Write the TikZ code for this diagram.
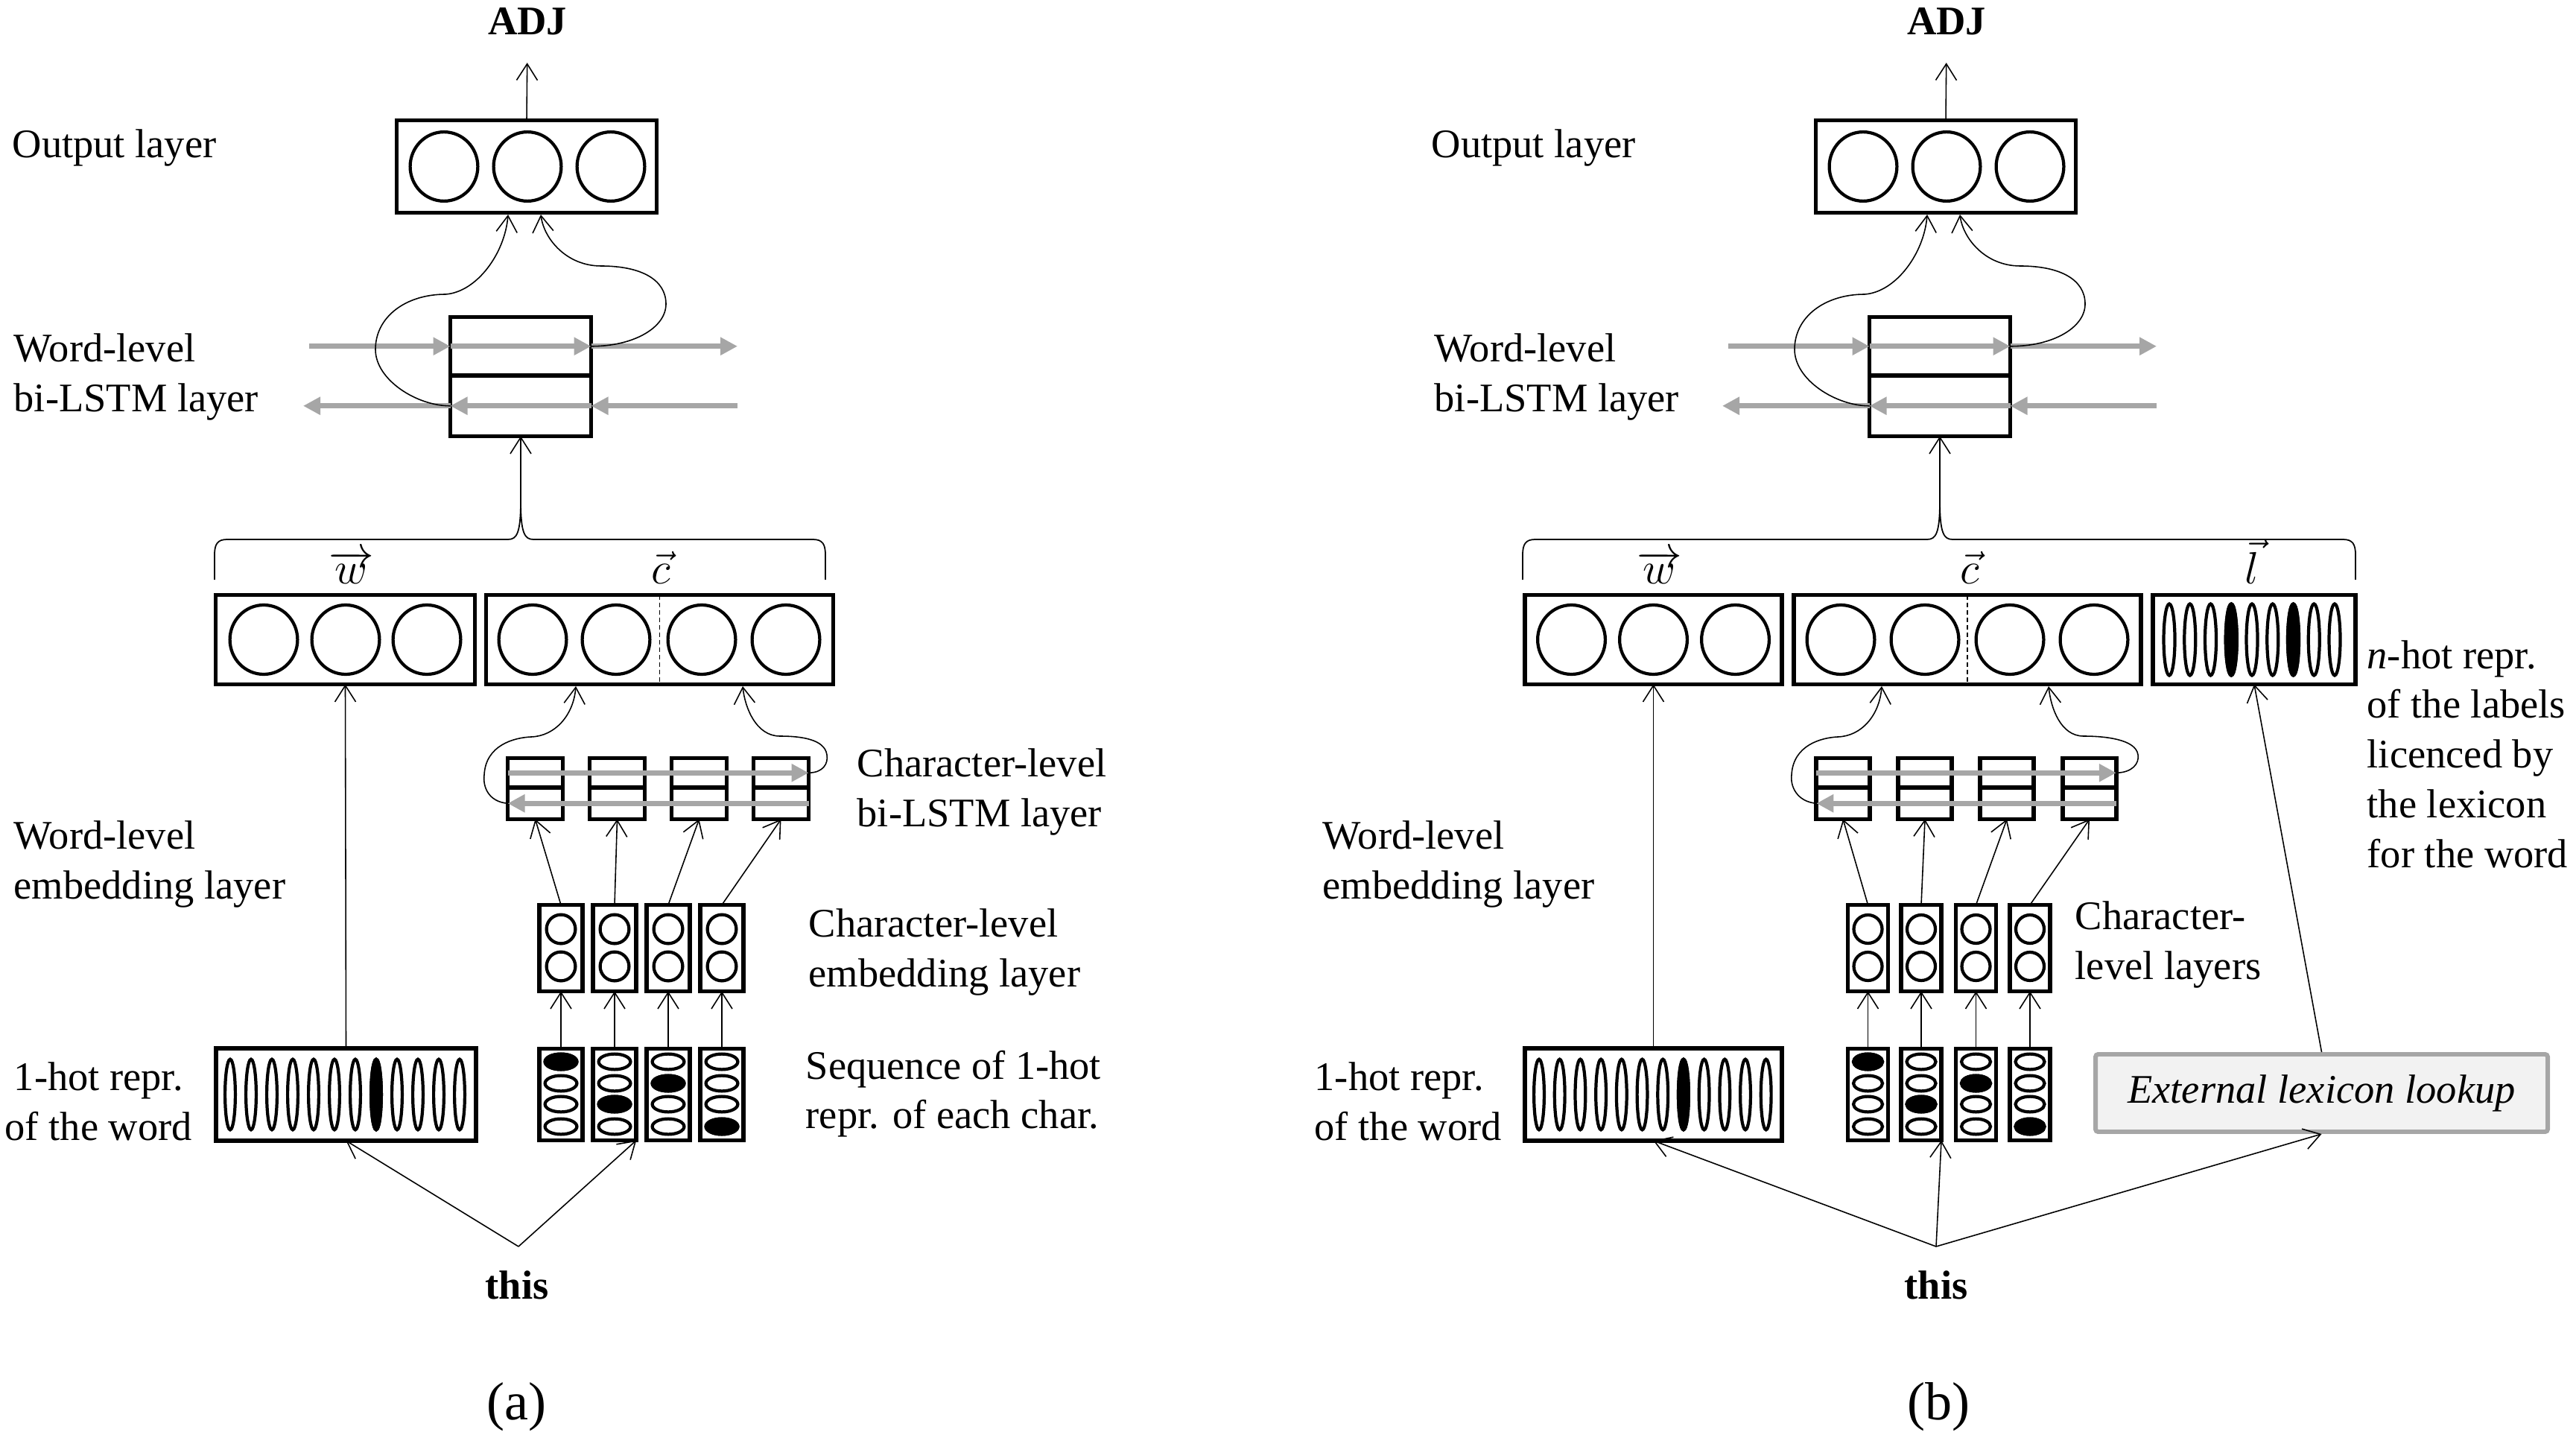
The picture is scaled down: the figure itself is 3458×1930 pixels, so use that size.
\documentclass[tikz,border=0pt]{standalone}
\usepackage{fontspec}
\setmainfont{Liberation Serif}
\usetikzlibrary{arrows.meta}
\definecolor{arrgray}{HTML}{A6A6A6}
\definecolor{extfill}{HTML}{F2F2F2}
\begin{document}
\begin{tikzpicture}[x=0.1mm,y=-0.1mm,
  font=\fontsize{15.5pt}{19pt}\selectfont,
  vbox/.style={draw, line width=1.6pt, rectangle, inner sep=0pt, outer sep=0pt},
  vring/.style={line width=1.2pt},
  vconn/.style={line width=0.45pt, -{Straight Barb[length=2.2mm,width=2.8mm]}},
  vgarr/.style={draw=arrgray, line width=1.9pt, -{Triangle[length=2.3mm,width=2.3mm]}},
  vbrace/.style={line width=0.5pt},
  vdash/.style={line width=0.45pt, dash pattern=on 0.6mm off 0.4mm},
  vlbl/.style={align=left, anchor=west, inner sep=0pt},
  vvec/.style={anchor=base, inner sep=0pt, font=\fontsize{17pt}{19pt}\selectfont},
  vbold/.style={font=\fontsize{15.5pt}{19pt}\selectfont\bfseries, inner sep=0pt},
  vcap/.style={font=\fontsize{20.5pt}{24pt}\selectfont, inner sep=0pt}
]
\useasboundingbox (0,0) rectangle (3458,1930);

%%%%%%%%%%%%%%%%%%%%%%%%%%%%%% PANEL (a)
\node[vbold, anchor=base] (adja) at (708,47) {ADJ};
\node[vbox, minimum width=34.9mm, minimum height=12.4mm] (outa) at (707,223.5) {};
\foreach \cx in {596,708,820} \draw[vring] (\cx,223.5) ellipse [x radius=45.4, y radius=46.4];
\draw[vconn, shorten >=3.6mm] (outa.north) -- (adja.south);
\node[vbox, minimum width=18.9mm, minimum height=7.85mm] (lta) at (699,464.75) {};
\node[vbox, minimum width=18.9mm, minimum height=8.15mm] (lba) at (699,544.75) {};
\coordinate (gua1) at (415,464.75); \coordinate (gua2) at (990,464.75);
\coordinate (gda1) at (990,544.75); \coordinate (gda2) at (407,544.75);
\draw[vgarr] (gua1) -- (lta.west);
\draw[vgarr] (lta.west) -- (lta.east);
\draw[vgarr] (lta.east) -- (gua2);
\draw[vgarr] (gda1) -- (lba.east);
\draw[vgarr] (lba.east) -- (lba.west);
\draw[vgarr] (lba.west) -- (gda2);
\coordinate (oina1) at (682,288); \coordinate (oina2) at (726,288);
\draw[vconn] (lba.west) .. controls (560,545) and (504,510) .. (504,469) .. controls (504,425) and (545,395) .. (598,395) .. controls (640,392) and (678,340) .. (oina1);
\draw[vconn] (lta.east) .. controls (850,465) and (894,440) .. (894,408) .. controls (894,375) and (860,357) .. (807,357) .. controls (760,357) and (730,320) .. (oina2);
\coordinate (bta) at (699,672);
\draw[vbrace] (288,778) -- (288,745) .. controls (288,730) and (292,724) .. (305,724) -- (682,724) .. controls (694,724) and (699,715) .. (bta) .. controls (699,715) and (704,724) .. (716,724) -- (1091,724) .. controls (1104,724) and (1108,730) .. (1108,745) -- (1108,778);
\draw[vconn] (bta) -- (lba.south);
\node[vvec] (wla) at (472,784) {$\overrightarrow{w}$};
\node[vvec] (cla) at (887,784) {$\vec{c}$};
\node[vbox, minimum width=34.8mm, minimum height=12mm] (wboxa) at (463.5,858.5) {};
\foreach \cx in {354,464,573} \draw[vring] (\cx,858.5) ellipse [x radius=45.4, y radius=46.5];
\node[vbox, minimum width=46.6mm, minimum height=12mm] (cboxa) at (885.5,858.5) {};
\foreach \cx in {715,827,942,1055} \draw[vring] (\cx,858.5) ellipse [x radius=45.4, y radius=46.5];
\draw[vdash] (cboxa.north) -- (cboxa.south);
\coordinate (cina1) at (773,921); \coordinate (cina2) at (997,921);
\foreach \i/\cx in {1/718.5,2/828.5,3/938.5,4/1048.5}{
  \node[vbox, minimum width=7.4mm, minimum height=3.95mm] (clta\i) at (\cx,1037.25) {};
  \node[vbox, minimum width=7.4mm, minimum height=4.25mm] (clba\i) at (\cx,1078.25) {};
}
\draw[vgarr] (clta1.west) -- (clta4.east);
\draw[vgarr] (clba4.east) -- (clba1.west);
\draw[vconn] (clba1.west) .. controls (655,1076) and (648,1055) .. (650,1040) .. controls (652,1000) and (690,990) .. (713,989) .. controls (745,988) and (770,960) .. (cina1);
\draw[vconn] (clta4.east) .. controls (1105,1037) and (1112,1025) .. (1110,1013) .. controls (1107,992) and (1075,988) .. (1047,988) .. controls (1015,988) and (1000,950) .. (cina2);
\foreach \i/\cx in {1/753,2/825,3/897,4/969}{
  \node[vbox, minimum width=5.84mm, minimum height=11.6mm] (cea\i) at (\cx,1272.5) {};
  \draw[vring] (\cx,1247) circle [radius=19.4];
  \draw[vring] (\cx,1297) circle [radius=19.4];
  \draw[vconn] (cea\i.north) -- (clba\i.south);
  \node[vbox, minimum width=5.84mm, minimum height=12.3mm] (oha\i) at (\cx,1469) {};
  \foreach \ey in {1425,1454,1482,1512} \draw[vring] (\cx,\ey) ellipse [x radius=21.4, y radius=10.4];
  \draw[vconn] (oha\i.north) -- (cea\i.south);
}
\filldraw[vring] (753,1425) ellipse [x radius=21.4, y radius=10.4];
\filldraw[vring] (825,1482) ellipse [x radius=21.4, y radius=10.4];
\filldraw[vring] (897,1454) ellipse [x radius=21.4, y radius=10.4];
\filldraw[vring] (969,1512) ellipse [x radius=21.4, y radius=10.4];
\node[vbox, minimum width=34.9mm, minimum height=12.4mm] (w1a) at (464.5,1469) {};
\foreach \k in {0,...,11} \draw[vring] ({309+28*\k},1469) ellipse [x radius=6.9, y radius=47.3];
\filldraw[vring] (505,1469) ellipse [x radius=6.9, y radius=47.3];
\draw[vconn] (w1a.north) -- (wboxa.south);
\node[vbold, anchor=base] (thisa) at (694,1743) {this};
\coordinate (srca) at (696,1673);
\draw[vconn] (srca) -- (w1a.south);
\draw[vconn] (srca) -- (oha2.south east);
\node[vlbl] (ta1) at (16,198) {Output layer};
\node[vlbl] (ta2) at (18,506) {Word-level\\bi-LSTM layer};
\node[vlbl] (ta3) at (18,1160) {Word-level\\embedding layer};
\node[vlbl, align=center] (ta4) at (6,1478) {1-hot repr.\\of the word};
\node[vlbl] (ta5) at (1150,1063) {Character-level\\bi-LSTM layer};
\node[vlbl] (ta6) at (1085,1278) {Character-level\\embedding layer};
\node[vlbl] (ta7) at (1081,1468) {Sequence of 1-hot\\repr. of each char.};
\node[vcap] (capa) at (693,1888) {(a)};

%%%%%%%%%%%%%%%%%%%%%%%%%%%%%% PANEL (b)
\node[vbold, anchor=base] (adjb) at (2613,47) {ADJ};
\node[vbox, minimum width=34.9mm, minimum height=12.4mm] (outb) at (2612,223.5) {};
\foreach \cx in {2501,2613,2725} \draw[vring] (\cx,223.5) ellipse [x radius=45.4, y radius=46.4];
\draw[vconn, shorten >=3.6mm] (outb.north) -- (adjb.south);
\node[vbox, minimum width=18.9mm, minimum height=7.85mm] (ltb) at (2604,464.75) {};
\node[vbox, minimum width=18.9mm, minimum height=8.15mm] (lbb) at (2604,544.75) {};
\coordinate (gub1) at (2320,464.75); \coordinate (gub2) at (2895,464.75);
\coordinate (gdb1) at (2895,544.75); \coordinate (gdb2) at (2312,544.75);
\draw[vgarr] (gub1) -- (ltb.west);
\draw[vgarr] (ltb.west) -- (ltb.east);
\draw[vgarr] (ltb.east) -- (gub2);
\draw[vgarr] (gdb1) -- (lbb.east);
\draw[vgarr] (lbb.east) -- (lbb.west);
\draw[vgarr] (lbb.west) -- (gdb2);
\coordinate (oinb1) at (2587,288); \coordinate (oinb2) at (2631,288);
\draw[vconn] (lbb.west) .. controls (2465,545) and (2409,510) .. (2409,469) .. controls (2409,425) and (2450,395) .. (2503,395) .. controls (2545,392) and (2583,340) .. (oinb1);
\draw[vconn] (ltb.east) .. controls (2755,465) and (2799,440) .. (2799,408) .. controls (2799,375) and (2765,357) .. (2712,357) .. controls (2665,357) and (2635,320) .. (oinb2);
\coordinate (btb) at (2604,672);
\draw[vbrace] (2044,778) -- (2044,745) .. controls (2044,730) and (2048,724) .. (2061,724) -- (2587,724) .. controls (2599,724) and (2604,715) .. (btb) .. controls (2604,715) and (2609,724) .. (2621,724) -- (3145,724) .. controls (3158,724) and (3162,730) .. (3162,745) -- (3162,778);
\draw[vconn] (btb) -- (lbb.south);
\node[vvec] (wlb) at (2228,784) {$\overrightarrow{w}$};
\node[vvec] (clb) at (2644,784) {$\vec{c}$};
\node[vvec] (llb) at (3023,784) {$\vec{l}$};
\node[vbox, minimum width=34.5mm, minimum height=12mm] (wboxb) at (2219.5,858.5) {};
\foreach \cx in {2109.5,2219.5,2329.5} \draw[vring] (\cx,858.5) ellipse [x radius=45.4, y radius=46.5];
\node[vbox, minimum width=46.6mm, minimum height=12mm] (cboxb) at (2641,858.5) {};
\foreach \cx in {2471,2584,2698,2811} \draw[vring] (\cx,858.5) ellipse [x radius=45.4, y radius=46.5];
\draw[vdash] (cboxb.north) -- (cboxb.south);
\node[vbox, minimum width=27.2mm, minimum height=12mm] (lboxb) at (3026,858.5) {};
\foreach \k in {0,...,8} \draw[vring] ({2912+27.75*\k},858.5) ellipse [x radius=7.5, y radius=48];
\filldraw[vring] (2995.25,858.5) ellipse [x radius=7.5, y radius=48];
\filldraw[vring] (3078.5,858.5) ellipse [x radius=7.5, y radius=48];
\coordinate (cinb1) at (2526,921); \coordinate (cinb2) at (2750,921);
\foreach \i/\cx in {1/2474,2/2584,3/2694,4/2805}{
  \node[vbox, minimum width=7.15mm, minimum height=3.95mm] (cltb\i) at (\cx,1037.25) {};
  \node[vbox, minimum width=7.15mm, minimum height=4.25mm] (clbb\i) at (\cx,1078.25) {};
}
\draw[vgarr] (cltb1.west) -- (cltb4.east);
\draw[vgarr] (clbb4.east) -- (clbb1.west);
\draw[vconn] (clbb1.west) .. controls (2412,1076) and (2403,1055) .. (2405,1040) .. controls (2407,1000) and (2445,990) .. (2467,989) .. controls (2499,988) and (2523,960) .. (cinb1);
\draw[vconn] (cltb4.east) .. controls (2862,1037) and (2872,1025) .. (2870,1013) .. controls (2867,992) and (2825,988) .. (2797,988) .. controls (2766,988) and (2753,950) .. (cinb2);
\foreach \i/\cx in {1/2507.5,2/2579,3/2652.5,4/2725}{
  \node[vbox, minimum width=5.4mm, minimum height=11.6mm] (ceb\i) at (\cx,1272.5) {};
  \draw[vring] (\cx,1247) circle [radius=19];
  \draw[vring] (\cx,1297) circle [radius=19];
  \draw[vconn] (ceb\i.north) -- (clbb\i.south);
  \node[vbox, minimum width=5.4mm, minimum height=12.3mm] (ohb\i) at (\cx,1469) {};
  \foreach \ey in {1425,1454,1482,1512} \draw[vring] (\cx,\ey) ellipse [x radius=19.5, y radius=10.4];
  \draw[vconn] (ohb\i.north) -- (ceb\i.south);
}
\filldraw[vring] (2507.5,1425) ellipse [x radius=19.5, y radius=10.4];
\filldraw[vring] (2579,1482) ellipse [x radius=19.5, y radius=10.4];
\filldraw[vring] (2652.5,1454) ellipse [x radius=19.5, y radius=10.4];
\filldraw[vring] (2725,1512) ellipse [x radius=19.5, y radius=10.4];
\node[vbox, minimum width=34.5mm, minimum height=12.4mm] (w1b) at (2219.5,1469) {};
\foreach \k in {0,...,11} \draw[vring] ({2066+27.7*\k},1469) ellipse [x radius=6.9, y radius=47.3];
\filldraw[vring] (2259.9,1469) ellipse [x radius=6.9, y radius=47.3];
\draw[vconn] (w1b.north) -- (wboxb.south);
\node[draw=arrgray, fill=extfill, line width=1.7pt, rounded corners=1pt, minimum width=60.7mm, minimum height=10.4mm, inner sep=0pt, font=\fontsize{15.5pt}{19pt}\selectfont\itshape] (extb) at (3116.5,1467) {External lexicon lookup};
\draw[vconn] (extb.north) -- (lboxb.south);
\node[vbold, anchor=base] (thisb) at (2599,1743) {this};
\coordinate (srcb) at (2599,1673);
\draw[vconn] (srcb) -- (w1b.south);
\draw[vconn] (srcb) -- (ohb2.south east);
\draw[vconn] (srcb) -- (extb.south);
\node[vlbl] (tb1) at (1921,198) {Output layer};
\node[vlbl] (tb2) at (1925,506) {Word-level\\bi-LSTM layer};
\node[vlbl] (tb3) at (1775,1160) {Word-level\\embedding layer};
\node[vlbl] (tb4) at (1764,1478) {1-hot repr.\\of the word};
\node[vlbl] (tb5) at (2785,1268) {Character-\\level layers};
\node[vlbl] (tb6) at (3177,1012) {\textit{n}-hot repr.\\of the labels\\licenced by\\the lexicon\\for the word};
\node[vcap] (capb) at (2602,1888) {(b)};
\end{tikzpicture}
\end{document}
